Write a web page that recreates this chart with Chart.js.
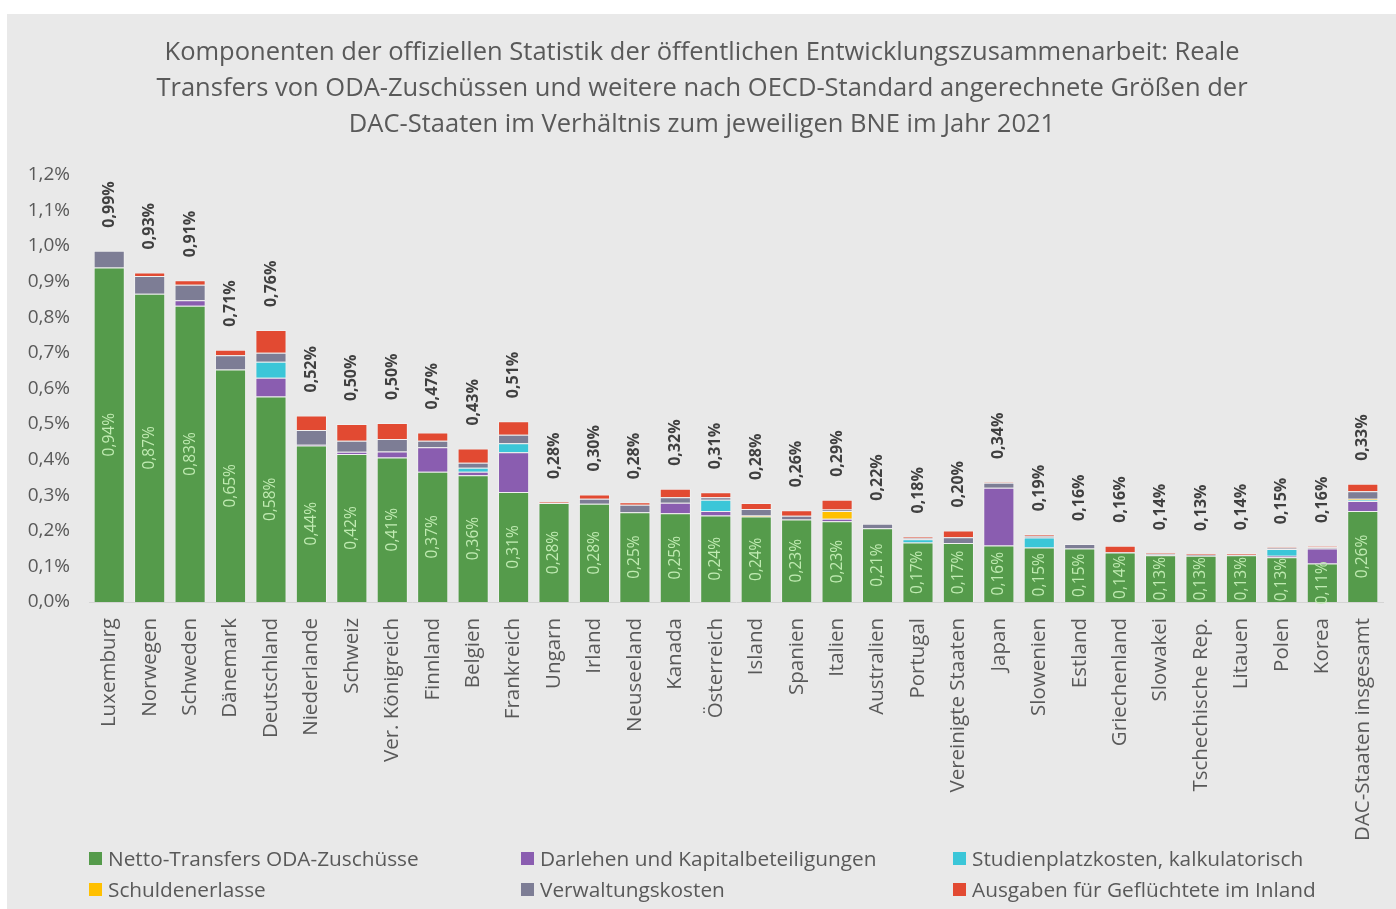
<!DOCTYPE html>
<html lang="de">
<head>
<meta charset="utf-8">
<script src="https://cdn.jsdelivr.net/npm/chart.js@4/dist/chart.umd.min.js"></script>
<style>
  html, body { margin: 0; padding: 0; background: #fff; }
  #panel {
    position: absolute; left: 7px; top: 14px;
    width: 1389px; height: 895px;
    background: #e9e9e9;
  }
  #grafik { display: block; }
  .legende { position: absolute; left: 0; top: 0; font-family: "Open Sans", sans-serif; font-size: 20.8px; color: #595959; }
  .legende div { position: absolute; white-space: nowrap; display: flex; align-items: center; line-height: 24px; }
  .legende span.box { display: inline-block; width: 13px; height: 13px; margin-right: 6px; }
</style>
</head>
<body>
<div id="panel">
  <canvas id="grafik" width="1389" height="895"></canvas>
  <div class="legende" id="legende"></div>
</div>
<script>
// Werte in % des BNE, 2021
const laender = [
  "Luxemburg", "Norwegen", "Schweden", "Dänemark", "Deutschland", "Niederlande",
  "Schweiz", "Ver. Königreich", "Finnland", "Belgien", "Frankreich", "Ungarn",
  "Irland", "Neuseeland", "Kanada", "Österreich", "Island", "Spanien", "Italien",
  "Australien", "Portugal", "Vereinigte Staaten", "Japan", "Slowenien", "Estland",
  "Griechenland", "Slowakei", "Tschechische Rep.", "Litauen", "Polen", "Korea",
  "DAC-Staaten insgesamt"
];

const nettoTransfers = [0.94, 0.866, 0.832, 0.653, 0.577, 0.44, 0.416, 0.406, 0.366, 0.356, 0.309, 0.278,
  0.276, 0.252, 0.249, 0.243, 0.24, 0.232, 0.227, 0.207, 0.167, 0.166, 0.159, 0.153, 0.15,
  0.139, 0.131, 0.13, 0.131, 0.126, 0.108, 0.256];
const darlehen = [0, 0, 0.016, 0, 0.053, 0.002, 0.006, 0.017, 0.069, 0.01, 0.112, 0,
  0, 0, 0.03, 0.013, 0, 0, 0.007, 0, 0, 0, 0.162, 0, 0,
  0, 0, 0, 0, 0.004, 0.042, 0.028];
const studienplatz = [0, 0, 0, 0, 0.045, 0, 0, 0, 0, 0.011, 0.025, 0,
  0, 0, 0, 0.031, 0, 0, 0, 0, 0.009, 0, 0, 0.028, 0,
  0, 0, 0, 0, 0.019, 0, 0.003];
const schuldenerlasse = [0, 0, 0, 0, 0, 0, 0, 0, 0, 0, 0, 0,
  0, 0, 0, 0, 0.003, 0, 0.022, 0, 0, 0, 0, 0, 0,
  0, 0, 0, 0, 0, 0, 0.003];
const verwaltung = [0.047, 0.05, 0.043, 0.04, 0.025, 0.041, 0.031, 0.035, 0.018, 0.014, 0.024, 0,
  0.014, 0.021, 0.015, 0.007, 0.018, 0.01, 0.004, 0.013, 0.003, 0.016, 0.014, 0.005, 0.013,
  0.001, 0.004, 0.002, 0.002, 0.002, 0.004, 0.021];
const gefluechtete = [0, 0.01, 0.013, 0.016, 0.064, 0.041, 0.047, 0.045, 0.023, 0.04, 0.038, 0.003,
  0.012, 0.007, 0.024, 0.014, 0.017, 0.016, 0.027, 0, 0.005, 0.019, 0.002, 0.004, 0,
  0.018, 0.002, 0.003, 0.004, 0.003, 0.003, 0.021];
const gesamt = [0.99, 0.93, 0.91, 0.71, 0.76, 0.52, 0.50, 0.50, 0.47, 0.43, 0.51, 0.28,
  0.30, 0.28, 0.32, 0.31, 0.28, 0.26, 0.29, 0.22, 0.18, 0.20, 0.34, 0.19, 0.16,
  0.16, 0.14, 0.13, 0.14, 0.15, 0.16, 0.33];

const yTicks = ["0,0%", "0,1%", "0,2%", "0,3%", "0,4%", "0,5%", "0,6%", "0,7%", "0,8%", "0,9%", "1,0%", "1,1%", "1,2%"];

const serien = [
  { label: "Netto-Transfers ODA-Zuschüsse", data: nettoTransfers, farbe: "#559b4b" },
  { label: "Darlehen und Kapitalbeteiligungen", data: darlehen, farbe: "#8a5db0" },
  { label: "Studienplatzkosten, kalkulatorisch", data: studienplatz, farbe: "#3bc6d8" },
  { label: "Schuldenerlasse", data: schuldenerlasse, farbe: "#ffc000" },
  { label: "Verwaltungskosten", data: verwaltung, farbe: "#7d7d95" },
  { label: "Ausgaben für Geflüchtete im Inland", data: gefluechtete, farbe: "#e24a32" }
];

const pct = (v) => v.toFixed(2).replace(".", ",") + "%";
const FONT = "'Open Sans', sans-serif";

// Beschriftungen: Netto-Wert im grünen Balken, Summe über dem Balken
const beschriftung = {
  id: "beschriftung",
  afterDatasetsDraw(chart) {
    const ctx = chart.ctx;
    const y = chart.scales.y;
    const gruen = chart.getDatasetMeta(0);
    ctx.save();
    gruen.data.forEach((bar, i) => {
      const mitte = (bar.y + bar.base) / 2;
      ctx.save();
      ctx.translate(bar.x, mitte);
      ctx.rotate(-Math.PI / 2);
      ctx.font = "15.5px " + FONT;
      ctx.fillStyle = "#c0ebb2";
      ctx.textAlign = "center";
      ctx.textBaseline = "middle";
      ctx.fillText(pct(nettoTransfers[i]), 0, 0);
      ctx.restore();

      const summe = serien.reduce((s, d) => s + d.data[i], 0);
      const oben = y.getPixelForValue(summe);
      ctx.save();
      ctx.translate(bar.x, oben - 23);
      ctx.rotate(-Math.PI / 2);
      ctx.font = "bold 16px " + FONT;
      ctx.fillStyle = "#404040";
      ctx.textAlign = "left";
      ctx.textBaseline = "middle";
      ctx.fillText(pct(gesamt[i]), 0, 0);
      ctx.restore();
    });
    ctx.restore();
  }
};

new Chart(document.getElementById("grafik"), {
  type: "bar",
  data: {
    labels: laender,
    datasets: serien.map((s) => ({
      label: s.label,
      data: s.data.map((v) => (v ? v : null)),
      backgroundColor: s.farbe,
      borderColor: "rgba(255,255,255,0.35)",
      borderWidth: 1,
      barPercentage: 0.77,
      categoryPercentage: 1
    }))
  },
  options: {
    responsive: false,
    animation: false,
    layout: { padding: { left: 14, right: 13, bottom: 62 } },
    plugins: {
      legend: { display: false },
      tooltip: { enabled: false },
      title: {
        display: true,
        text: [
          "Komponenten der offiziellen Statistik der öffentlichen Entwicklungszusammenarbeit: Reale",
          "Transfers von ODA-Zuschüssen und weitere nach OECD-Standard angerechnete Größen der",
          "DAC-Staaten im Verhältnis zum jeweiligen BNE im Jahr 2021"
        ],
        color: "#595959",
        font: { family: FONT, size: 25.5, weight: "normal", lineHeight: 1.41 },
        padding: { top: 21, bottom: 32 }
      }
    },
    scales: {
      x: {
        stacked: true,
        grid: { display: false },
        border: { display: true, color: "#d4d4d4", width: 1 },
        ticks: {
          color: "#595959",
          font: { family: FONT, size: 20.5 },
          maxRotation: 90,
          minRotation: 90,
          autoSkip: false,
          padding: 8
        },
        afterFit: (sc) => { sc.height = 245; }
      },
      y: {
        stacked: true,
        min: 0,
        max: 1.2,
        grid: { display: false, drawTicks: false },
        border: { display: false },
        ticks: {
          stepSize: 0.1,
          color: "#595959",
          font: { family: FONT, size: 19 },
          padding: 19,
          callback: (v, i) => yTicks[i]
        },
        afterFit: (sc) => { sc.width = 68; }
      }
    }
  },
  plugins: [beschriftung]
});

// Legende in drei Spalten
const legende = document.getElementById("legende");
serien.forEach((s, i) => {
  const d = document.createElement("div");
  d.style.left = (82 + (i % 3) * 432) + "px";
  d.style.top = (832 + Math.floor(i / 3) * 31) + "px";
  d.innerHTML = `<span class="box" style="background:${s.farbe}"></span>${s.label}`;
  legende.appendChild(d);
});
</script>
</body>
</html>
